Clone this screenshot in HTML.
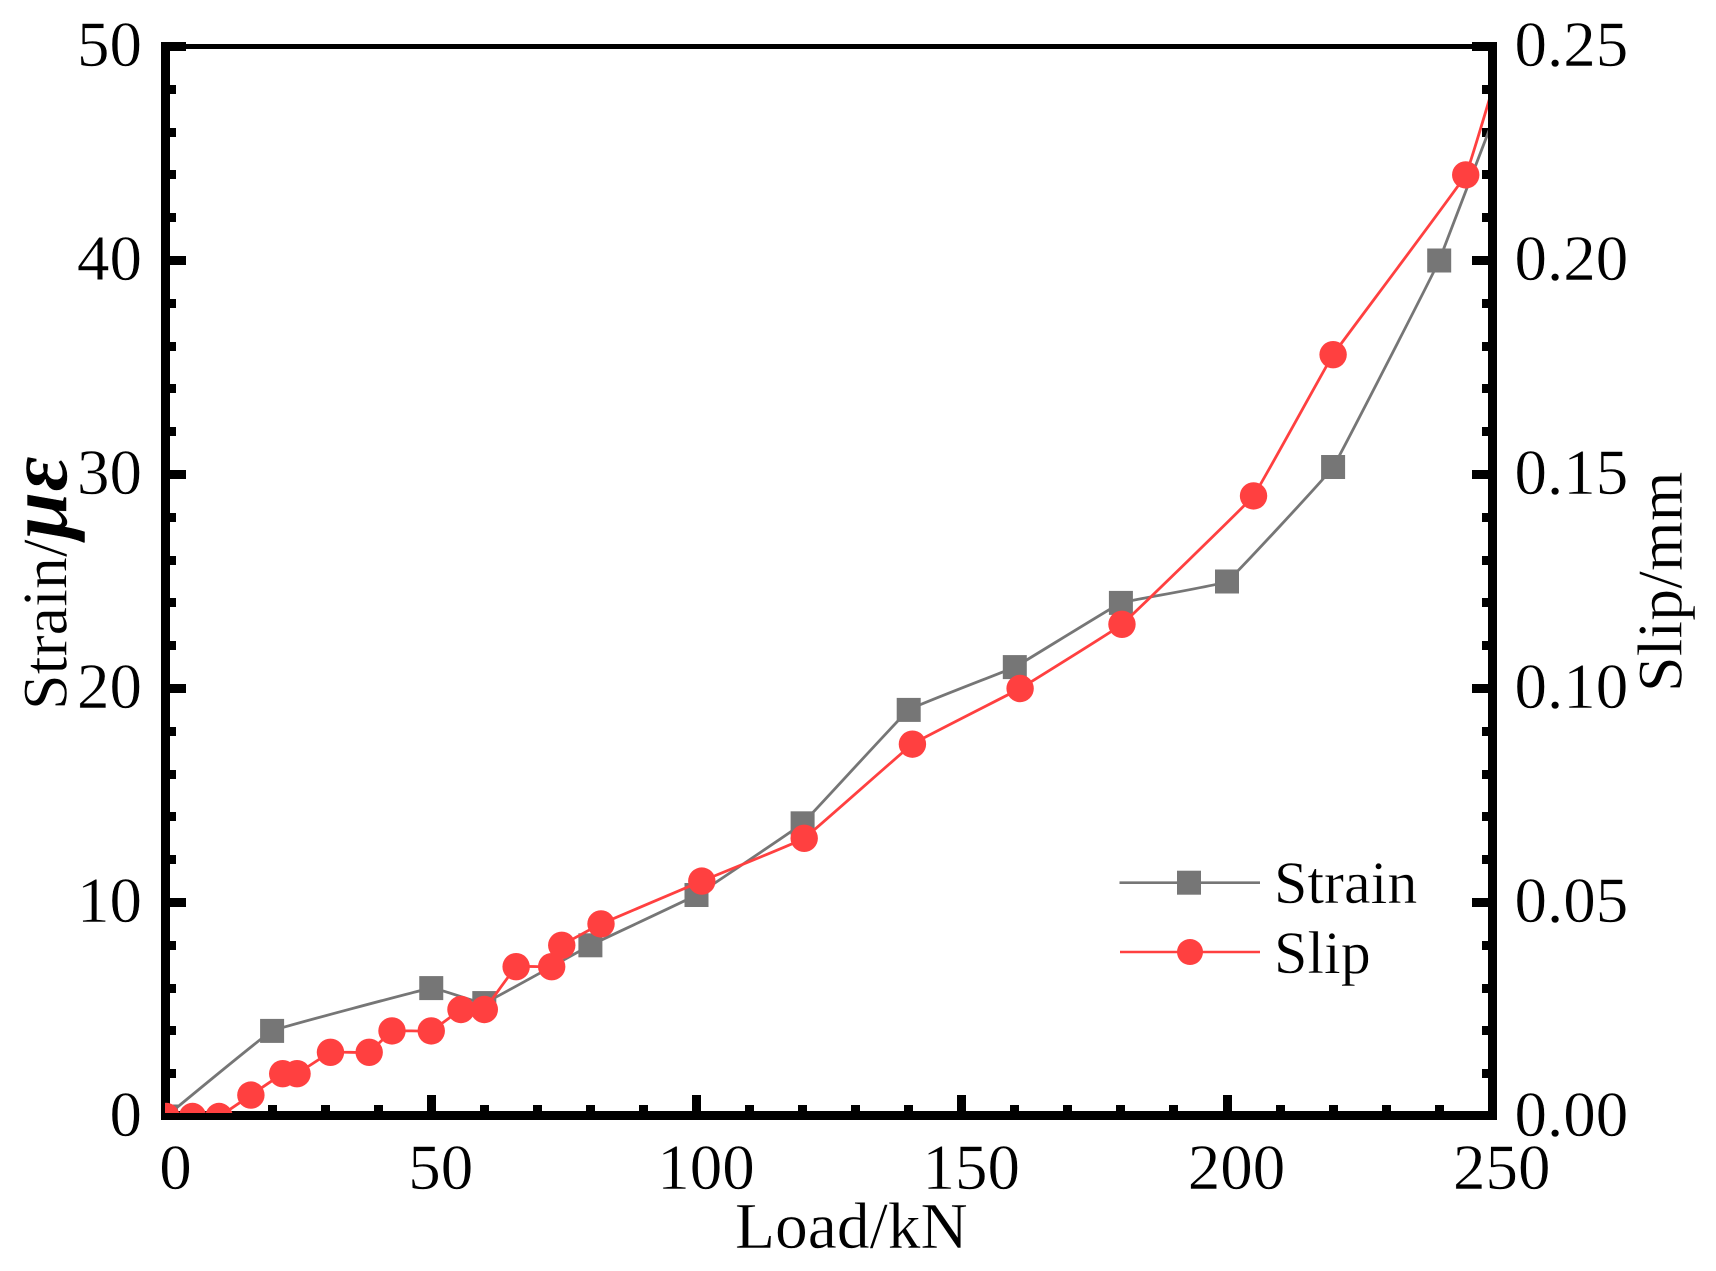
<!DOCTYPE html>
<html>
<head>
<meta charset="utf-8">
<title>Strain and slip versus load</title>
<style>
html,body{margin:0;padding:0;background:#fff;width:1716px;height:1271px;overflow:hidden}
svg{display:block}
text{font-family:"Liberation Serif","DejaVu Serif",serif;fill:#000;stroke:#fff;stroke-width:0.45px}
</style>
</head>
<body>
<svg id="chart" xmlns="http://www.w3.org/2000/svg" width="1716" height="1271" viewBox="0 0 1716 1271">
  <defs>
    <clipPath id="plot-clip"><rect x="165" y="44" width="1323" height="1069"/></clipPath>
  </defs>
  <rect x="0" y="0" width="1716" height="1271" fill="#fff"/>
  <g id="axes"></g>
  <g id="labels"></g>
  <g id="series" clip-path="url(#plot-clip)"></g>
  <text x="735" y="1248" font-size="65.5">Load/kN</text>
  <text transform="translate(66.5 710) rotate(-90)" font-size="64">Strain/<tspan font-weight="bold" font-style="italic" font-size="86">με</tspan></text>
  <text transform="translate(1681.5 692) rotate(-90)" font-size="64">Slip/mm</text>
  <g>
    <g>
      <line x1="1119.5" x2="1260" y1="882.7" y2="882.7" stroke="#767676" stroke-width="2.6"/>
      <rect x="1177" y="870.7" width="24" height="24" fill="#767676"/>
      <text x="1274" y="903" font-size="60">Strain</text>
    </g>
    <g>
      <line x1="1120" x2="1260" y1="952" y2="952" stroke="#FF4040" stroke-width="2.6"/>
      <circle cx="1190" cy="952" r="13" fill="#FF4040"/>
      <text x="1274" y="973" font-size="60">Slip</text>
    </g>
  </g>
</svg>
<script>
const strainLoads = [0, 20, 50, 60, 80, 100, 120, 140, 160, 180, 200, 220, 240, 260];
const strainValues = [0, 4, 6, 5.3, 8, 10.35, 13.7, 19, 21, 24, 25, 30.35, 40, 53];
const slipLoads = [0, 5, 10, 16, 22, 24.7, 31, 38.3, 42.6, 50, 55.6, 60, 66, 72.7, 74.6, 82, 101, 120.3, 140.7, 161, 180.2, 205, 220, 245, 255];
const slipValues = [0, 0, 0, 0.005, 0.01, 0.01, 0.015, 0.015, 0.02, 0.02, 0.025, 0.025, 0.035, 0.035, 0.04, 0.045, 0.055, 0.065, 0.087, 0.1, 0.115, 0.145, 0.178, 0.22, 0.261];
const xTickValues = [0, 50, 100, 150, 200, 250];
const leftTickValues = [0, 10, 20, 30, 40, 50];
const rightTickValues = [0, 0.05, 0.10, 0.15, 0.20, 0.25];
const rightTickLabels = ['0.00', '0.05', '0.10', '0.15', '0.20', '0.25'];

const NS = 'http://www.w3.org/2000/svg';
const xScale = v => 166 + v * 5.305;
const yLeft = v => 1116.5 - v * 21.4;
const yRight = v => 1116.5 - v * 4280;

function mk(tag, parent, attrs) {
  const el = document.createElementNS(NS, tag);
  for (const k in attrs) el.setAttribute(k, attrs[k]);
  parent.appendChild(el);
  return el;
}

const axes = document.getElementById('axes');
const labels = document.getElementById('labels');
const series = document.getElementById('series');

function bar(x, y, w, h, name) {
  const el = mk('rect', axes, {x: x, y: y, width: w, height: h, fill: '#000'});
  
  
}

bar(161, 44, 1336, 5, 'top-spine');
bar(161, 1111, 1336, 9, 'bottom-spine');
bar(161, 42, 9, 1078, 'left-spine');
bar(1488, 42, 9, 1078, 'right-spine');

// y ticks: major every 10, minor every 2
for (let i = 0; i <= 25; i++) {
  const v = i * 2;
  const major = i % 5 === 0;
  if (v === 0) continue;
  const y = Math.round(yLeft(v) - 4.5);
  const len = major ? 16 : 6;
  bar(170, y, len, 9, major ? 'left-major-tick' : 'left-minor-tick');
  bar(1488 - len, y, len, 9, major ? 'right-major-tick' : 'right-minor-tick');
}
// x ticks: major every 50, minor every 10
for (let i = 1; i < 25; i++) {
  const v = i * 10;
  const major = i % 5 === 0;
  const len = major ? 16 : 6;
  bar(Math.round(xScale(v) - 4.5), 1111 - len, 9, len, major ? 'x-major-tick' : 'x-minor-tick');
}

xTickValues.forEach(v => {
  const t = mk('text', labels, {x: xScale(v) + 9.5, y: 1189, 'font-size': 65, 'text-anchor': 'middle'});
  
  
  t.textContent = String(v);
});
leftTickValues.forEach(v => {
  const t = mk('text', labels, {x: 142, y: yLeft(v) + 19.5, 'font-size': 65, 'text-anchor': 'end'});
  
  
  t.textContent = String(v);
});
rightTickValues.forEach((v, i) => {
  const t = mk('text', labels, {x: 1514.5, y: yRight(v) + 19.5, 'font-size': 65});
  
  
  t.textContent = rightTickLabels[i];
});

function smoothPath(pts) {
  const k = 0.025;
  let d = 'M' + pts[0][0] + ' ' + pts[0][1];
  for (let i = 0; i < pts.length - 1; i++) {
    const p0 = pts[Math.max(0, i - 1)], p1 = pts[i], p2 = pts[i + 1], p3 = pts[Math.min(pts.length - 1, i + 2)];
    d += 'C' + (p1[0] + (p2[0] - p0[0]) * k) + ' ' + (p1[1] + (p2[1] - p0[1]) * k) + ' ' +
         (p2[0] - (p3[0] - p1[0]) * k) + ' ' + (p2[1] - (p3[1] - p1[1]) * k) + ' ' + p2[0] + ' ' + p2[1];
  }
  return d;
}

const strainPts = strainLoads.map((x, i) => [xScale(x), yLeft(strainValues[i])]);
const slipPts = slipLoads.map((x, i) => [xScale(x), yRight(slipValues[i])]);

const strainLine = mk('path', series, {d: smoothPath(strainPts), fill: 'none', stroke: '#767676', 'stroke-width': 2.8});


strainPts.forEach(p => {
  const m = mk('rect', series, {x: p[0] - 12, y: p[1] - 12, width: 24, height: 24, fill: '#767676'});
  
  
});

const slipLine = mk('path', series, {d: smoothPath(slipPts), fill: 'none', stroke: '#FF4040', 'stroke-width': 2.8});


slipPts.forEach(p => {
  const m = mk('circle', series, {cx: p[0], cy: p[1], r: 13.7, fill: '#FF4040'});
  
  
});
</script>
</body>
</html>
